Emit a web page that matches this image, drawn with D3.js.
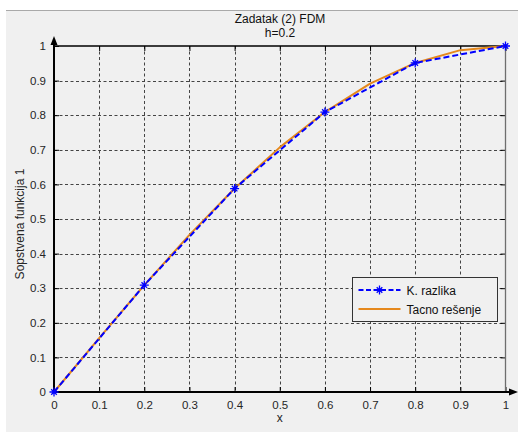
<!DOCTYPE html>
<html>
<head>
<meta charset="utf-8">
<script src="https://cdn.jsdelivr.net/npm/d3@7"></script>
<style>
  html, body { margin: 0; padding: 0; background: #ffffff; }
  svg { display: block; }
  text { font-family: "Liberation Sans", Arial, sans-serif; }
</style>
</head>
<body>
<svg id="chart" width="518" height="432"></svg>
<script>
// Finite-difference solution (h = 0.2) and the exact eigenfunction
const fdmX = [0, 0.2, 0.4, 0.6, 0.8, 1.0];
const fdmY = [0, 0.309, 0.588, 0.809, 0.951, 1.0];
const exactX = [0, 0.1, 0.2, 0.3, 0.4, 0.5, 0.6, 0.7, 0.8, 0.9, 1.0];
const exactY = [0, 0.156, 0.309, 0.454, 0.588, 0.707, 0.809, 0.891, 0.951, 0.988, 1.0];
const xTicks = [0, 0.1, 0.2, 0.3, 0.4, 0.5, 0.6, 0.7, 0.8, 0.9, 1];
const yTicks = [0, 0.1, 0.2, 0.3, 0.4, 0.5, 0.6, 0.7, 0.8, 0.9, 1];
const titleLines = ["Zadatak (2) FDM", "h=0.2"];
const xLabel = "x";
const yLabel = "Sopstvena funkcija 1";
const legendLabels = ["K. razlika", "Tacno rešenje"];

const svg = d3.select("#chart");
const W = 518, H = 432;
const m = { left: 54, right: 505.5, top: 46, bottom: 392 };

// figure background
svg.append("rect").attr("x", 6).attr("y", 10).attr("width", W - 6).attr("height", H - 10).attr("fill", "#f0f0f0");
svg.append("line").attr("x1", 6).attr("x2", W).attr("y1", 10.5).attr("y2", 10.5).attr("stroke", "#a9a9a9").attr("stroke-width", 1);

const x = d3.scaleLinear().domain([0, 1]).range([m.left, m.right]);
const y = d3.scaleLinear().domain([0, 1]).range([m.bottom, m.top]);

// dotted grid
const grid = svg.append("g").attr("stroke", "#444").attr("stroke-width", 1).attr("stroke-dasharray", "3,2.5");
xTicks.slice(1, -1).forEach(t => {
  grid.append("line").attr("x1", Math.round(x(t)) + 0.5).attr("x2", Math.round(x(t)) + 0.5)
    .attr("y1", m.top).attr("y2", m.bottom);
});
yTicks.slice(1, -1).forEach(t => {
  grid.append("line").attr("y1", Math.round(y(t)) + 0.5).attr("y2", Math.round(y(t)) + 0.5)
    .attr("x1", m.left).attr("x2", m.right);
});

// axes with inward ticks
const tl = 5;
const xAxis = d3.axisBottom(x).tickValues(xTicks).tickSize(-tl).tickPadding(9).tickFormat(d3.format("~g"));
const yAxis = d3.axisLeft(y).tickValues(yTicks).tickSize(-tl).tickPadding(8).tickFormat(d3.format("~g"));
const xTop = d3.axisTop(x).tickValues(xTicks).tickSize(-tl).tickFormat("");
const yRight = d3.axisRight(y).tickValues(yTicks).tickSize(-tl).tickFormat("");

function styleAxis(g) {
  g.select(".domain").remove();
  g.selectAll(".tick line").attr("stroke", "#000").attr("stroke-width", 1);
  g.selectAll(".tick text").attr("fill", "#262626").attr("font-size", "11.5px");
}
svg.append("g").attr("transform", `translate(0,${m.bottom})`).call(xAxis).call(styleAxis);
svg.append("g").attr("transform", `translate(${m.left},0)`).call(yAxis).call(styleAxis);
svg.append("g").attr("transform", `translate(0,${m.top})`).call(xTop).call(styleAxis);
svg.append("g").attr("transform", `translate(${m.right},0)`).call(yRight).call(styleAxis);

// frame: top and right thin, left and bottom heavy with arrows
svg.append("line").attr("x1", m.left).attr("x2", m.right).attr("y1", m.top).attr("y2", m.top).attr("stroke", "#000").attr("stroke-width", 1.3);
svg.append("line").attr("x1", m.right).attr("x2", m.right).attr("y1", m.top).attr("y2", m.bottom).attr("stroke", "#6e6e6e").attr("stroke-width", 1.3);
svg.append("line").attr("x1", m.left).attr("x2", W - 3).attr("y1", m.bottom).attr("y2", m.bottom).attr("stroke", "#000").attr("stroke-width", 2);
svg.append("line").attr("x1", m.left).attr("x2", m.left).attr("y1", m.bottom).attr("y2", 40).attr("stroke", "#000").attr("stroke-width", 2);
svg.append("path").attr("d", `M${m.left},36 L${m.left - 3.5},45 L${m.left + 3.5},45 Z`).attr("fill", "#000");
svg.append("path").attr("d", `M${W},${m.bottom} L${W - 9},${m.bottom - 3.5} L${W - 9},${m.bottom + 3.5} Z`).attr("fill", "#000");

// curves
const line = d3.line().x(d => x(d[0])).y(d => y(d[1]));
const exactPts = exactX.map((v, i) => [v, exactY[i]]);
const fdmPts = fdmX.map((v, i) => [v, fdmY[i]]);
const orange = "#e5881c", blue = "#0000ff";

svg.append("path").datum(exactPts).attr("d", line).attr("fill", "none")
  .attr("stroke", orange).attr("stroke-width", 2).attr("stroke-linejoin", "round");
svg.append("path").datum(fdmPts).attr("d", line).attr("fill", "none")
  .attr("stroke", blue).attr("stroke-width", 2).attr("stroke-dasharray", "6,3");

function star(g, cx, cy) {
  const r = 4.5, d = 2.8;
  g.append("path")
    .attr("d", `M${cx - r},${cy}L${cx + r},${cy}M${cx},${cy - r}L${cx},${cy + r}` +
               `M${cx - d},${cy - d}L${cx + d},${cy + d}M${cx - d},${cy + d}L${cx + d},${cy - d}`)
    .attr("stroke", blue).attr("stroke-width", 1.3).attr("fill", "none");
}
const markers = svg.append("g");
fdmPts.forEach(p => star(markers, x(p[0]), y(p[1])));

// titles and axis labels
svg.append("text").attr("x", 280).attr("y", 23).attr("text-anchor", "middle").attr("font-size", "12px").attr("fill", "#111").text(titleLines[0]);
svg.append("text").attr("x", 280).attr("y", 37).attr("text-anchor", "middle").attr("font-size", "12px").attr("fill", "#111").text(titleLines[1]);
svg.append("text").attr("x", x(0.5)).attr("y", 422).attr("text-anchor", "middle").attr("font-size", "12px").attr("fill", "#262626").text(xLabel);
svg.append("text").attr("transform", `translate(24,${(m.top + m.bottom) / 2 + 5}) rotate(-90)`)
  .attr("text-anchor", "middle").attr("font-size", "12px").attr("fill", "#262626").text(yLabel);

// legend
const lg = svg.append("g").attr("transform", "translate(352.5,277.5)");
lg.append("rect").attr("width", 145).attr("height", 44).attr("fill", "#f0f0f0").attr("stroke", "#333").attr("stroke-width", 1);
lg.append("line").attr("x1", 6).attr("x2", 48).attr("y1", 12.5).attr("y2", 12.5)
  .attr("stroke", blue).attr("stroke-width", 2).attr("stroke-dasharray", "5,2.5");
star(lg, 27, 12.5);
lg.append("line").attr("x1", 6).attr("x2", 48).attr("y1", 31.5).attr("y2", 31.5).attr("stroke", orange).attr("stroke-width", 2);
lg.append("text").attr("x", 54).attr("y", 17).attr("font-size", "12px").attr("fill", "#111").text(legendLabels[0]);
lg.append("text").attr("x", 54).attr("y", 36).attr("font-size", "12px").attr("fill", "#111").text(legendLabels[1]);
</script>
</body>
</html>
